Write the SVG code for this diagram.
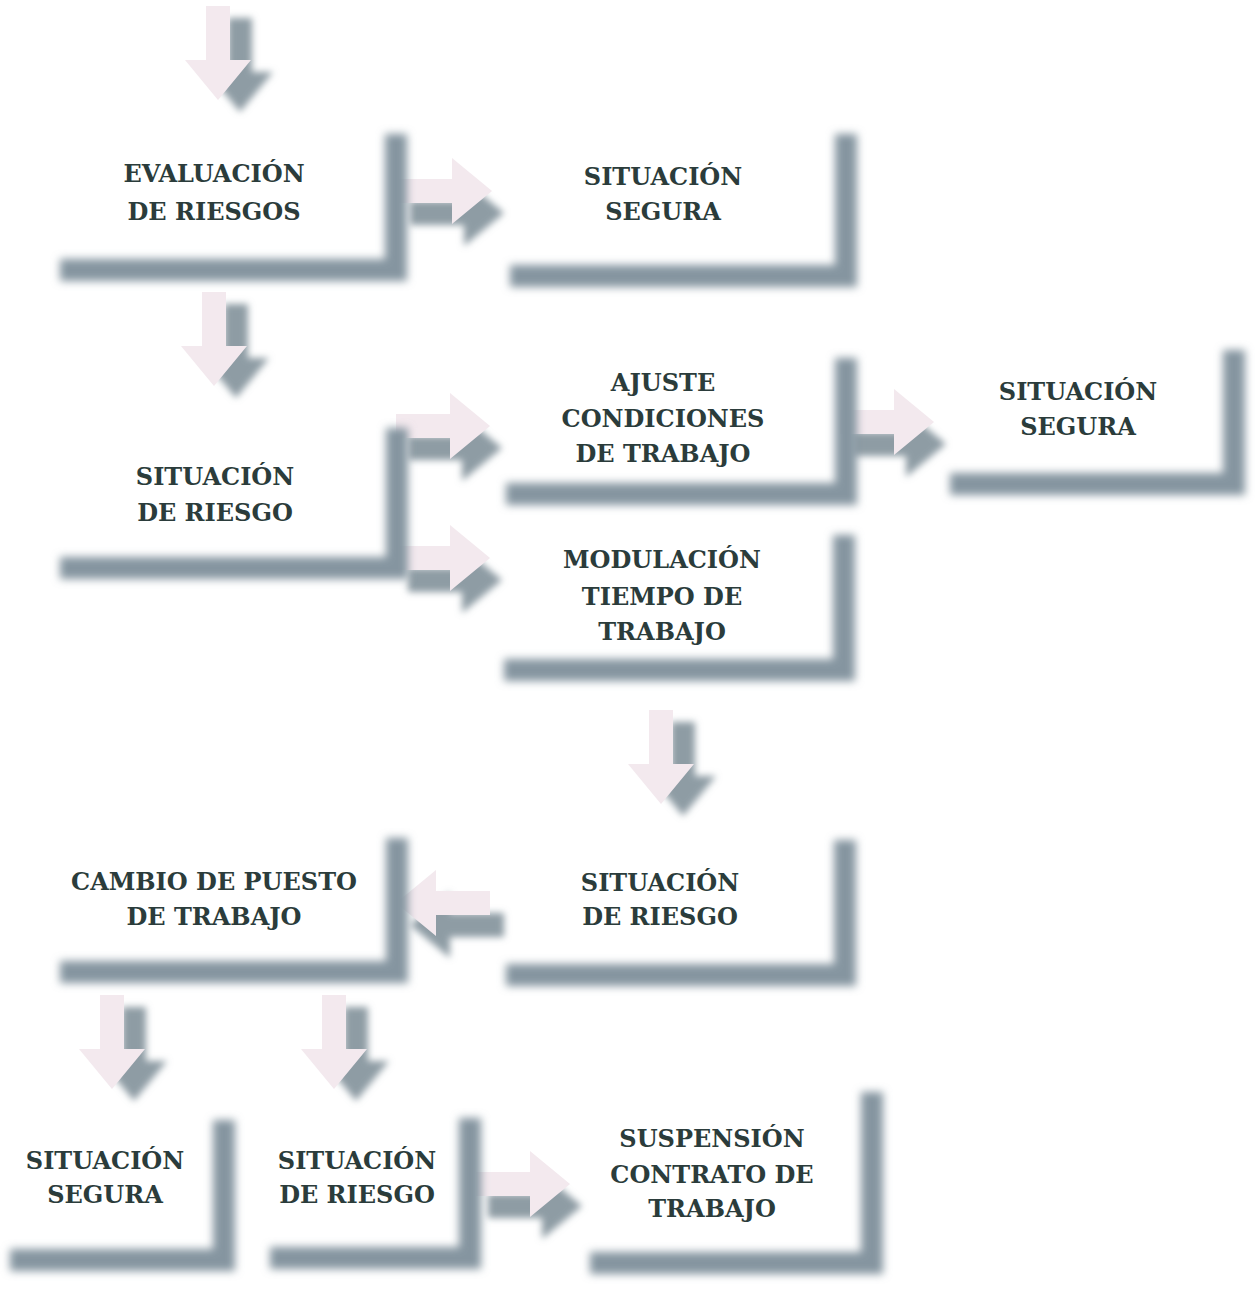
<svg xmlns="http://www.w3.org/2000/svg" xmlns:xlink="http://www.w3.org/1999/xlink" width="1260" height="1290" viewBox="0 0 1260 1290">
<style>
.bg{fill:#ffffff}
.sh{fill:none;stroke:#8595a0;stroke-width:22;stroke-linecap:butt;stroke-linejoin:miter;filter:url(#blurL)}
.t{font-family:"DejaVu Serif","Liberation Serif",serif;font-weight:bold;font-size:24px;fill:#2b3c3b;text-anchor:middle}
.al{fill:#f3e9ee}
.ad{fill:#8e9ca4;filter:url(#blurA)}
</style>
<defs>
<filter id="blurL" x="-20%" y="-25%" width="140%" height="150%"><feGaussianBlur stdDeviation="4"/></filter>
<filter id="blurA" x="-40%" y="-40%" width="180%" height="180%"><feGaussianBlur stdDeviation="3.5"/></filter>
<polygon id="arr" points="-12,0 12,0 12,54 33,54 0,94 -33,54 -12,54"/>
</defs>
<rect class="bg" x="0" y="0" width="1260" height="1290"/>

<g id="connectors">
  <g id="a1"><use href="#arr" class="ad" transform="translate(240,18)"/><use href="#arr" class="al" transform="translate(218,6)"/></g>
  <g id="a2"><use href="#arr" class="ad" transform="translate(236,304)"/><use href="#arr" class="al" transform="translate(214,292)"/></g>
  <g id="a3"><use href="#arr" class="ad" transform="translate(410,213) rotate(-90)"/><use href="#arr" class="al" transform="translate(398,191) rotate(-90)"/></g>
  <g id="a4"><use href="#arr" class="ad" transform="translate(408,448) rotate(-90)"/><use href="#arr" class="al" transform="translate(396,426) rotate(-90)"/></g>
  <g id="a5"><use href="#arr" class="ad" transform="translate(408,580) rotate(-90)"/><use href="#arr" class="al" transform="translate(396,558) rotate(-90)"/></g>
  <g id="a6"><use href="#arr" class="ad" transform="translate(852,444) rotate(-90)"/><use href="#arr" class="al" transform="translate(840,422) rotate(-90)"/></g>
  <g id="a7"><use href="#arr" class="ad" transform="translate(683,722)"/><use href="#arr" class="al" transform="translate(661,710)"/></g>
  <g id="a8"><use href="#arr" class="ad" transform="translate(504,925) rotate(90)"/><use href="#arr" class="al" transform="translate(490,903) rotate(90)"/></g>
  <g id="a9"><use href="#arr" class="ad" transform="translate(134,1007)"/><use href="#arr" class="al" transform="translate(112,995)"/></g>
  <g id="a10"><use href="#arr" class="ad" transform="translate(356,1007)"/><use href="#arr" class="al" transform="translate(334,995)"/></g>
  <g id="a11"><use href="#arr" class="ad" transform="translate(488,1206) rotate(-90)"/><use href="#arr" class="al" transform="translate(476,1184) rotate(-90)"/></g>
</g>

<g id="n1">
  <path class="sh" d="M 60 270 H 396 V 134"/>
  <text class="t" x="214" y="182">EVALUACIÓN</text>
  <text class="t" x="214" y="220">DE RIESGOS</text>
</g>
<g id="n2">
  <path class="sh" d="M 510 276 H 846 V 134"/>
  <text class="t" x="663" y="185">SITUACIÓN</text>
  <text class="t" x="663" y="220">SEGURA</text>
</g>
<g id="n3">
  <path class="sh" d="M 60 568 H 397 V 428"/>
  <text class="t" x="215" y="485">SITUACIÓN</text>
  <text class="t" x="215" y="521">DE RIESGO</text>
</g>
<g id="n4">
  <path class="sh" d="M 506 494 H 846 V 358"/>
  <text class="t" x="663" y="391">AJUSTE</text>
  <text class="t" x="663" y="427">CONDICIONES</text>
  <text class="t" x="663" y="462">DE TRABAJO</text>
</g>
<g id="n5">
  <path class="sh" d="M 950 484 H 1234 V 350"/>
  <text class="t" x="1078" y="400">SITUACIÓN</text>
  <text class="t" x="1078" y="435">SEGURA</text>
</g>
<g id="n6">
  <path class="sh" d="M 504 670 H 844 V 535"/>
  <text class="t" x="662" y="568">MODULACIÓN</text>
  <text class="t" x="662" y="605">TIEMPO DE</text>
  <text class="t" x="662" y="640">TRABAJO</text>
</g>
<g id="n7">
  <path class="sh" d="M 506 975 H 845 V 840"/>
  <text class="t" x="660" y="891">SITUACIÓN</text>
  <text class="t" x="660" y="925">DE RIESGO</text>
</g>
<g id="n8">
  <path class="sh" d="M 60 972 H 397 V 838"/>
  <text class="t" x="214" y="890">CAMBIO DE PUESTO</text>
  <text class="t" x="214" y="925">DE TRABAJO</text>
</g>
<g id="n9">
  <path class="sh" d="M 10 1260 H 224 V 1120"/>
  <text class="t" x="105" y="1169">SITUACIÓN</text>
  <text class="t" x="105" y="1203">SEGURA</text>
</g>
<g id="n10">
  <path class="sh" d="M 270 1258 H 470 V 1118"/>
  <text class="t" x="357" y="1169">SITUACIÓN</text>
  <text class="t" x="357" y="1203">DE RIESGO</text>
</g>
<g id="n11">
  <path class="sh" d="M 590 1263 H 872 V 1092"/>
  <text class="t" x="712" y="1147">SUSPENSIÓN</text>
  <text class="t" x="712" y="1183">CONTRATO DE</text>
  <text class="t" x="712" y="1217">TRABAJO</text>
</g>
</svg>
